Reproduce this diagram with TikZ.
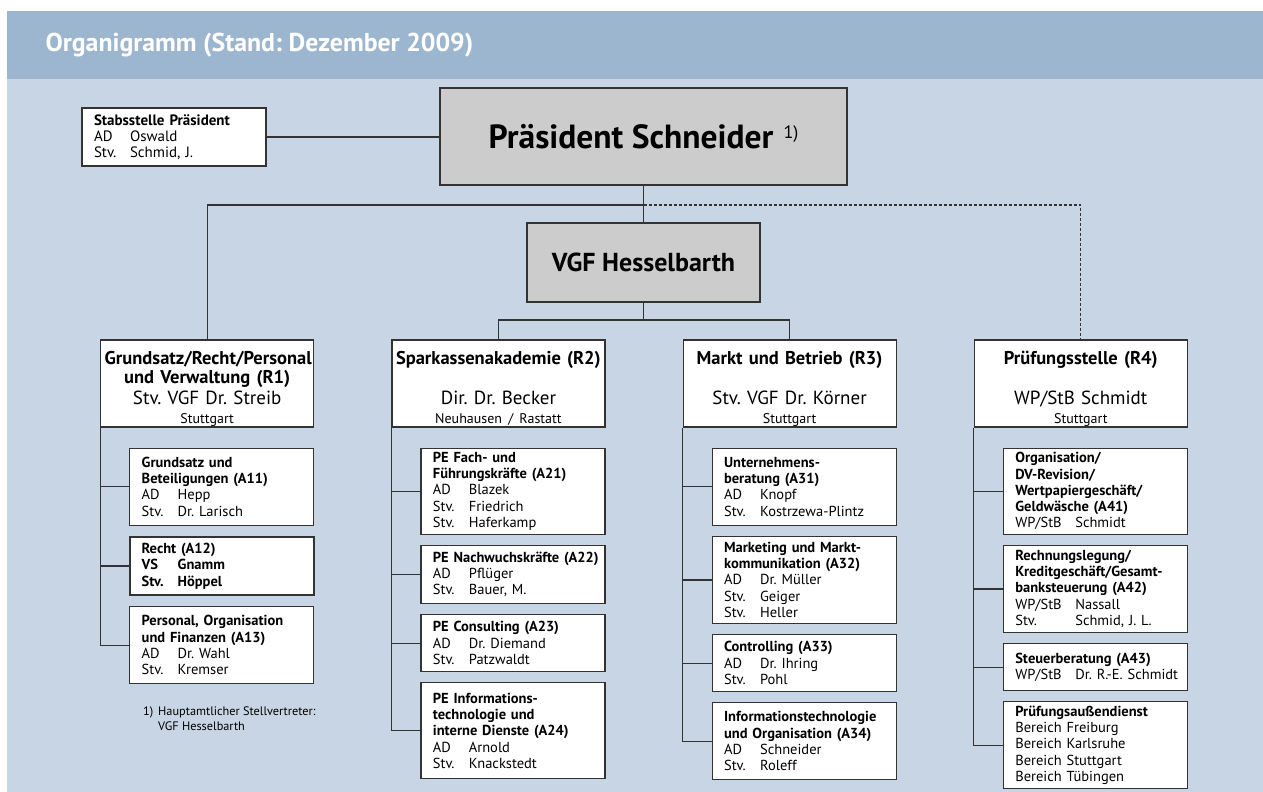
\documentclass[tikz,border=0pt]{standalone}
\usepackage{fontspec}
\setmainfont{PT Sans}
\usetikzlibrary{positioning}

\definecolor{barblue}{HTML}{9DB6CF}
\definecolor{paleblue}{HTML}{C8D5E4}
\definecolor{boxgray}{HTML}{CCCCCC}
\definecolor{edge}{HTML}{333333}

\hyphenpenalty=10000
\frenchspacing
\newcommand{\pr}[3][36pt]{\mbox{\makebox[#1][l]{#2}#3}}
\newcommand{\rname}[1]{{\fontsize{19}{19}\selectfont #1}}
\newcommand{\rplace}[1]{{\fontsize{14}{14}\selectfont #1}}
\newcommand{\tstrut}{\rule{0pt}{23.5pt}}

\tikzset{
  unit/.style={draw=edge, fill=white, line width=1.2pt, text width=160pt,
    inner xsep=12pt, inner ysep=3pt, align=left,
    font=\fontsize{14.5}{16.3}\selectfont},
  region/.style={draw=edge, fill=white, line width=1.2pt, text width=205pt,
    minimum height=87pt, inner xsep=4pt, inner ysep=0pt, align=center,
    font=\fontsize{18.5}{19}\selectfont},
  head/.style={draw=edge, fill=boxgray, line width=1.3pt, inner sep=0pt},
  link/.style={draw=edge, line width=1.2pt}
}

\begin{document}
\begin{tikzpicture}[x=1pt, y=-1pt]
\useasboundingbox (0,0) rectangle (1263,792);
% background and title bar
\fill[paleblue] (7,79) rectangle (1263,792);
\fill[barblue] (7,11) rectangle (1263,79);
\node (title) [anchor=west, text=white, font=\fontsize{25.8}{30}\selectfont\bfseries] at (42,45)
  {Organigramm (Stand: Dezember 2009)};

% top level
\node (pres) [head, minimum width=407pt, minimum height=97pt, font=\fontsize{33.5}{38}\selectfont\bfseries] at (643.5,136.5)
  {Präsident Schneider\hspace{10pt}\raisebox{10pt}{\fontsize{18}{18}\selectfont\mdseries 1)}};
\node (vgf) [head, minimum width=233pt, minimum height=79pt, font=\fontsize{26}{30}\selectfont\bfseries] at (643.5,262.5)
  {VGF Hesselbarth};
\node (stab) [unit, minimum height=58pt, font=\fontsize{15}{16}\selectfont] at (174,137)
  {\textbf{Stabsstelle Präsident}\\\pr{AD}{Oswald}\\\pr{Stv.}{Schmid, J.}};

% departments
\matrix [column sep=77pt] at (644,383.5) {
  \node (r1) [region] {\tstrut\textbf{Grundsatz/Recht/Personal}\\\textbf{und Verwaltung (R1)}\\[2pt]\rname{Stv. VGF Dr. Streib}\\\rplace{Stuttgart}}; &
  \node (r2) [region] {\tstrut\textbf{Sparkassenakademie (R2)}\\\mbox{}\\[2pt]\rname{Dir. Dr. Becker}\\\rplace{Neuhausen / Rastatt}}; &
  \node (r3) [region] {\tstrut\textbf{Markt und Betrieb (R3)}\\\mbox{}\\[2pt]\rname{Stv. VGF Dr. Körner}\\\rplace{Stuttgart}}; &
  \node (r4) [region] {\tstrut\textbf{Prüfungsstelle (R4)}\\\mbox{}\\[2pt]\rname{WP/StB Schmidt}\\\rplace{Stuttgart}}; \\
};

% R1
\node (a11) [unit, minimum height=77pt, below left=20pt and 0pt of r1.south east]
  {\textbf{Grundsatz und}\\\textbf{Beteiligungen (A11)}\\\pr{AD}{Hepp}\\\pr{Stv.}{Dr. Larisch}};
\node (a12) [unit, minimum height=58pt, line width=2.4pt, below=10pt of a11]
  {\textbf{Recht (A12)}\\\textbf{\pr{VS}{Gnamm}}\\\textbf{\pr{Stv.}{Höppel}}};
\node (a13) [unit, minimum height=77pt, below=10pt of a12]
  {\textbf{Personal, Organisation}\\\textbf{und Finanzen (A13)}\\\pr{AD}{Dr. Wahl}\\\pr{Stv.}{Kremser}};

% R2
\node (a21) [unit, minimum height=86pt, below left=20pt and 0pt of r2.south east]
  {\textbf{PE Fach- und}\\\textbf{Führungskräfte (A21)}\\\pr{AD}{Blazek}\\\pr{Stv.}{Friedrich}\\\pr{Stv.}{Haferkamp}};
\node (a22) [unit, minimum height=58pt, below=10pt of a21]
  {\mbox{\textbf{PE Nachwuchskräfte (A22)}}\\\pr{AD}{Pflüger}\\\pr{Stv.}{Bauer, M.}};
\node (a23) [unit, minimum height=57pt, below=10pt of a22]
  {\textbf{PE Consulting (A23)}\\\pr{AD}{Dr. Diemand}\\\pr{Stv.}{Patzwaldt}};
\node (a24) [unit, minimum height=96pt, below=10pt of a23]
  {\textbf{PE Informations-}\\\textbf{technologie und}\\\textbf{interne Dienste (A24)}\\\pr{AD}{Arnold}\\\pr{Stv.}{Knackstedt}};

% R3
\node (a31) [unit, minimum height=77pt, below left=20pt and 0pt of r3.south east]
  {\textbf{Unternehmens-}\\\textbf{beratung (A31)}\\\pr{AD}{Knopf}\\\pr{Stv.}{Kostrzewa-Plintz}};
\node (a32) [unit, minimum height=87pt, below=10pt of a31]
  {\textbf{Marketing und Markt-}\\\textbf{kommunikation (A32)}\\\pr{AD}{Dr. Müller}\\\pr{Stv.}{Geiger}\\\pr{Stv.}{Heller}};
\node (a33) [unit, minimum height=57pt, below=10pt of a32]
  {\textbf{Controlling (A33)}\\\pr{AD}{Dr. Ihring}\\\pr{Stv.}{Pohl}};
\node (a34) [unit, minimum height=77pt, below=10pt of a33]
  {\textbf{Informationstechnologie}\\\textbf{und Organisation (A34)}\\\pr{AD}{Schneider}\\\pr{Stv.}{Roleff}};

% R4
\node (a41) [unit, minimum height=86pt, below left=20pt and 0pt of r4.south east]
  {\textbf{Organisation/}\\\textbf{DV-Revision/}\\\textbf{Wertpapiergeschäft/}\\\textbf{Geldwäsche (A41)}\\\pr[60pt]{WP/StB}{Schmidt}};
\node (a42) [unit, minimum height=87pt, below=10pt of a41]
  {\textbf{Rechnungslegung/}\\\textbf{Kreditgeschäft/Gesamt-}\\\textbf{banksteuerung (A42)}\\\pr[60pt]{WP/StB}{Nassall}\\\pr[60pt]{Stv.}{Schmid, J. L.}};
\node (a43) [unit, minimum height=47pt, below=10pt of a42]
  {\textbf{Steuerberatung (A43)}\\\pr[60pt]{WP/StB}{Dr. R.-E. Schmidt}};
\node (a44) [unit, minimum height=87pt, below=10pt of a43]
  {\textbf{Prüfungsaußendienst}\\Bereich Freiburg\\Bereich Karlsruhe\\Bereich Stuttgart\\Bereich Tübingen};

% footnote
\node (fn) [anchor=north west, inner sep=0pt, align=left, font=\fontsize{12.3}{15}\selectfont] at (143,707)
  {\makebox[15pt][l]{1)}Hauptamtlicher Stellvertreter:\\\hspace*{15pt}VGF Hesselbarth};

% connectors
\coordinate (fork) at (643.5,205);
\coordinate (split) at (643.5,320);
\draw[link] (stab.east) -- (stab.east -| pres.west);
\draw[link] (pres) -- (vgf);
\draw[link] (fork) -| (r1.north);
\draw[link, dash pattern=on 3pt off 2pt] (fork) -| (r4.north);
\draw[link] (vgf) -- (split);
\draw[link] (r2.north) |- (split) -| (r3.north);

\draw[link] (r1.south west) |- (a13.west);
\draw[link] (a11.west) -- (a11.west -| r1.west);
\draw[link] (a12.west) -- (a12.west -| r1.west);

\draw[link] (r2.south west) |- (a24.west);
\draw[link] (a21.west) -- (a21.west -| r2.west);
\draw[link] (a22.west) -- (a22.west -| r2.west);
\draw[link] (a23.west) -- (a23.west -| r2.west);

\draw[link] (r3.south west) |- (a34.west);
\draw[link] (a31.west) -- (a31.west -| r3.west);
\draw[link] (a32.west) -- (a32.west -| r3.west);
\draw[link] (a33.west) -- (a33.west -| r3.west);

\draw[link] (r4.south west) |- (a44.west);
\draw[link] (a41.west) -- (a41.west -| r4.west);
\draw[link] (a42.west) -- (a42.west -| r4.west);
\draw[link] (a43.west) -- (a43.west -| r4.west);
\end{tikzpicture}
\end{document}
